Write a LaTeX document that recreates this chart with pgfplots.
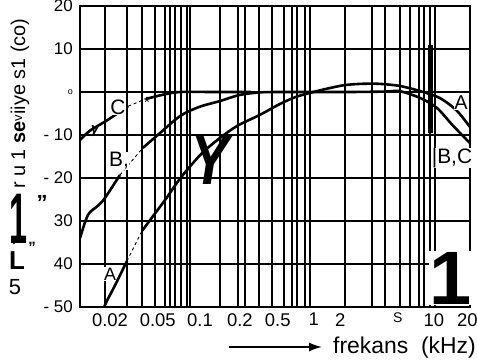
\documentclass[border=0pt]{standalone}
\usepackage{pgfplots}
\pgfplotsset{compat=1.18}
\usepackage{fontspec}
\setmainfont{Liberation Sans}
\usetikzlibrary{arrows.meta}
\newcommand{\fs}[1]{\fontsize{#1}{#1}\selectfont}
\begin{document}
\begin{tikzpicture}
\useasboundingbox (0bp,0bp) rectangle (477bp,-363bp);
\begin{axis}[
  at={(80bp,-307bp)}, anchor=south west,
  scale only axis, width=390bp, height=301bp,
  xmode=log, xmin=0.01125, xmax=20, ymin=-50, ymax=20,
  axis line style={line width=2.2pt},
  /pgf/number format/assume math mode=true,
  xtick={0.02,0.05,0.1125,0.242,0.5,1,1.66,5,10,19},
  xticklabels={0.02,0.05,0.1,0.2,0.5,1,2,{\fs{14}S},10,20},
  ytick={20,10,0,-10,-20,-30,-40,-50},
  yticklabels={20,10,{\fs{9}o},- 10,- 20,30,40,- 50},
  major tick length=0pt, minor tick length=0pt,
  x tick label style={font=\fs{18.5}, inner sep=0pt, yshift=-6bp},
  y tick label style={font=\fs{17}, inner sep=0pt, xshift=-7bp},
  ymajorgrids=true,
  major grid style={line width=1.6bp, black},
  extra x ticks={0.0182,0.0277,0.0370,0.0474,0.0575,0.0632,0.0696,0.0781,0.0876,0.0928,0.165,0.233,0.267,0.349,0.448,0.564,0.657,0.723,0.843,0.928,1.817,3.05,3.91,5.22,6.32,7.52,8.28,9.28,10.2},
  extra x tick labels={},
  extra x tick style={grid=major, major grid style={line width=2.2bp, black}},
  clip=true,
]
% A curve
\addplot[black, line width=2.6bp, smooth] coordinates {(0.016,-54) (0.0182,-49.5) (0.022,-45) (0.0277,-39.3)};
\addplot[black, line width=0.9bp, dashed] coordinates {(0.0277,-39.3) (0.037,-32.3)};
\addplot[black, line width=2.6bp, smooth] coordinates {(0.037,-32.3) (0.047,-28.4) (0.059,-24.7) (0.075,-20.5) (0.093,-17.3) (0.12,-13.9) (0.165,-10.7) (0.229,-7.9) (0.356,-5.3) (0.52,-2.8) (0.7,-1.2) (0.93,-0.2) (1.3,0.8) (1.8,1.6) (2.5,1.9) (3.5,1.9) (5.2,1.4) (7.7,0.2) (11.2,-1.4) (15.6,-4.4) (20.8,-8.8)};
% B curve
\addplot[black, line width=2.6bp, smooth] coordinates {(0.01125,-34) (0.0131,-28.6) (0.0158,-26.5) (0.0181,-24.7) (0.0242,-19.3)};
\addplot[black, line width=0.9bp, dashed] coordinates {(0.0242,-19.3) (0.0376,-13)};
\addplot[black, line width=2.6bp, smooth] coordinates {(0.0376,-13) (0.05,-10) (0.0767,-5.6) (0.11,-3.5) (0.165,-2.1) (0.24,-0.7) (0.35,-0.1) (0.5,0) (1,0) (2,0) (4,0.1) (5.2,0.2) (7.7,-1.4) (10.6,-3.7) (14.3,-7.7) (20,-11.9)};
% C curve
\addplot[black, line width=2.6bp, smooth] coordinates {(0.01125,-11.2) (0.0136,-9) (0.0189,-6.6) (0.0283,-3.3)};
\addplot[black, line width=0.9bp, dashed] coordinates {(0.0283,-3.3) (0.04,-1.6)};
\addplot[black, line width=2.6bp, smooth] coordinates {(0.04,-1.6) (0.058,-0.5) (0.077,0) (0.15,0) (0.3,0)};
% thick bar near 10 kHz
\draw[line width=4.5bp] (axis cs:9.4,11) -- (axis cs:9.4,-9.5);
\end{axis}
\begin{scope}[x=1bp,y=-1bp]
% curve labels
\node[font=\fs{21}, fill=white, inner sep=0.5bp] at (118,107) {C};
\node[font=\fs{15}\bfseries\itshape] at (95,131) {y};
\node[font=\fs{15}] at (147,102) {*};
\node[font=\fs{21}, fill=white, inner sep=0.5bp] at (119,161) {B,};
\node[font=\fs{18}, fill=white, inner sep=0.5bp] at (110,274) {A};
\node[font=\fs{20}, fill=white, inner sep=0.5bp] at (461,103) {A};
\node[font=\fs{21}, fill=white, inner sep=0.5bp] at (452,158) {|B,C};
\node[font=\fs{70}\bfseries\itshape, inner sep=0pt] at (210,161) {\scalebox{0.8}[1]{Y}};
\node[font=\fs{76}\bfseries, fill=white, inner sep=0.5bp, anchor=base] at (451,304) {1};
% y axis label fragments
\node[rotate=90, font=\fs{20}, anchor=west, inner sep=0pt] at (20,189) {r u 1 \textbf{se}\raisebox{3bp}{\fs{13}v}iiye s1 (co)};
\node[inner sep=0pt] at (18,219) {\scalebox{0.45}[1]{\fs{72}\bfseries 1}};
\node[font=\fs{22}\bfseries, inner sep=0pt] at (42,203) {"};
\node[font=\fs{26}\bfseries, inner sep=0pt] at (17,261) {L};
\node[font=\fs{12}\bfseries, inner sep=0pt] at (14,241) {:};
\node[font=\fs{15}\bfseries, inner sep=0pt] at (32,247) {"};
\node[font=\fs{22}, inner sep=0pt] at (15,287) {5};
% x label
\draw[line width=1.6bp, -{Latex[length=13bp,width=9bp]}] (229,347) -- (322,347);
\node[font=\fs{23}, anchor=west, inner sep=0pt] at (333,348) {frekans\ \ (kHz)};
\end{scope}
\end{tikzpicture}
\end{document}
